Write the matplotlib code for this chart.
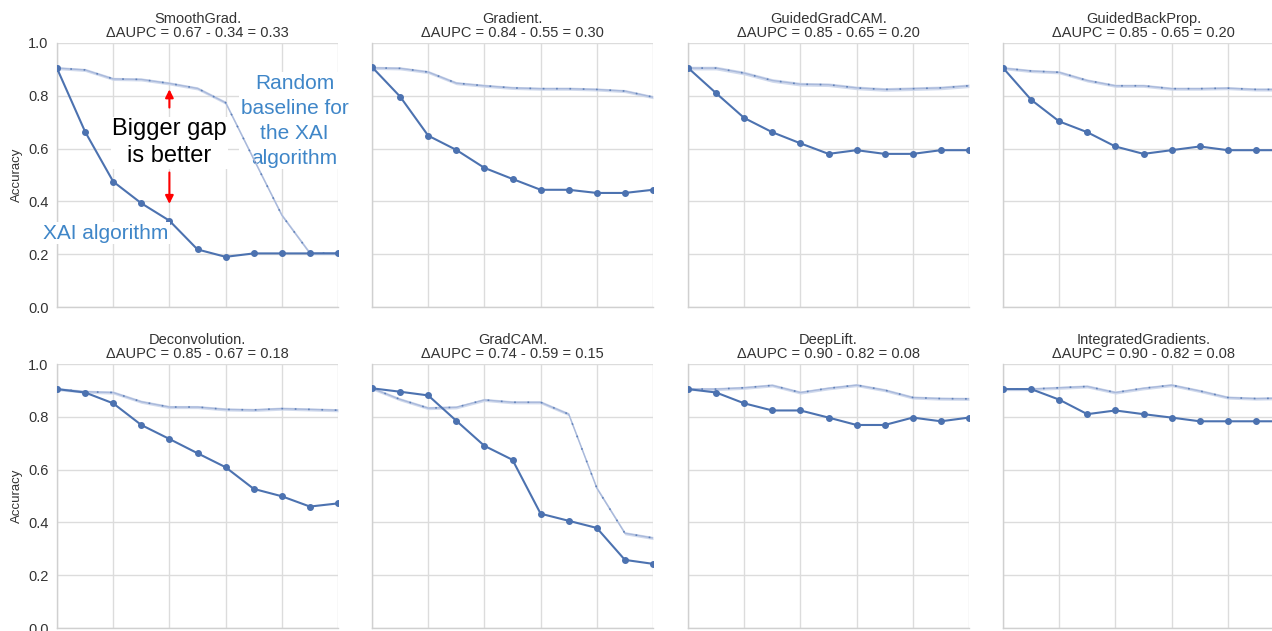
import numpy as np
import matplotlib
matplotlib.use("Agg")
import matplotlib.pyplot as plt
import seaborn as sns

sns.set_style("whitegrid")
plt.rcParams['font.family'] = ['Liberation Sans', 'DejaVu Sans']

# Datos (11 pasos por panel)
steps = np.arange(11)

methods = ["SmoothGrad", "Gradient", "GuidedGradCAM", "GuidedBackProp",
           "Deconvolution", "GradCAM", "DeepLift", "IntegratedGradients"]
aupc_xai = [0.34, 0.55, 0.65, 0.65, 0.67, 0.59, 0.82, 0.82]
aupc_rand = [0.67, 0.84, 0.85, 0.85, 0.85, 0.74, 0.90, 0.90]
aupc_gap = [0.33, 0.30, 0.20, 0.20, 0.18, 0.15, 0.08, 0.08]

xai_smoothgrad = [0.904, 0.664, 0.475, 0.393, 0.327, 0.218, 0.190, 0.203, 0.203, 0.203, 0.203]
xai_gradient = [0.909, 0.797, 0.649, 0.595, 0.527, 0.485, 0.444, 0.444, 0.432, 0.432, 0.444]
xai_guidedgradcam = [0.906, 0.810, 0.716, 0.662, 0.620, 0.580, 0.594, 0.580, 0.580, 0.594, 0.594]
xai_guidedbackprop = [0.906, 0.785, 0.703, 0.662, 0.608, 0.580, 0.594, 0.608, 0.594, 0.594, 0.594]
xai_deconvolution = [0.905, 0.892, 0.851, 0.769, 0.716, 0.662, 0.609, 0.527, 0.499, 0.460, 0.472]
xai_gradcam = [0.908, 0.895, 0.881, 0.785, 0.690, 0.637, 0.433, 0.406, 0.379, 0.258, 0.243]
xai_deeplift = [0.905, 0.892, 0.851, 0.824, 0.824, 0.797, 0.769, 0.769, 0.797, 0.783, 0.797]
xai_intgrad = [0.905, 0.905, 0.865, 0.810, 0.824, 0.810, 0.797, 0.783, 0.783, 0.783, 0.783]

rand_smoothgrad = [0.905, 0.898, 0.864, 0.862, 0.847, 0.828, 0.774, 0.560, 0.348, 0.204, 0.204]
rand_gradient = [0.906, 0.904, 0.890, 0.848, 0.838, 0.830, 0.827, 0.827, 0.824, 0.818, 0.795]
rand_guidedgradcam = [0.905, 0.905, 0.886, 0.858, 0.844, 0.842, 0.830, 0.824, 0.827, 0.830, 0.838]
rand_guidedbackprop = [0.905, 0.894, 0.889, 0.858, 0.838, 0.838, 0.827, 0.827, 0.829, 0.824, 0.824]
rand_deconvolution = [0.905, 0.895, 0.892, 0.857, 0.837, 0.837, 0.828, 0.826, 0.831, 0.828, 0.825]
rand_gradcam = [0.908, 0.866, 0.833, 0.836, 0.864, 0.855, 0.855, 0.810, 0.530, 0.359, 0.341]
rand_deeplift = [0.905, 0.905, 0.910, 0.919, 0.892, 0.908, 0.920, 0.901, 0.873, 0.869, 0.868]
rand_intgrad = [0.905, 0.905, 0.910, 0.915, 0.892, 0.908, 0.920, 0.898, 0.873, 0.869, 0.871]

# dispersión (media banda) de la línea base aleatoria
rand_spread = [0.006, 0.006, 0.007, 0.006, 0.006, 0.006, 0.006, 0.006]

xai_curves = [xai_smoothgrad, xai_gradient, xai_guidedgradcam, xai_guidedbackprop,
              xai_deconvolution, xai_gradcam, xai_deeplift, xai_intgrad]
rand_curves = [rand_smoothgrad, rand_gradient, rand_guidedgradcam, rand_guidedbackprop,
               rand_deconvolution, rand_gradcam, rand_deeplift, rand_intgrad]

# Gráfico
W, H = 1272, 631
fig = plt.figure(figsize=(W / 100, H / 100), dpi=100)

col_left = [57, 372, 688, 1003]
row_top = [43, 364]
ax_w, ax_h = 281, 264

blue = '#4c72b0'
axes = []
for i, name in enumerate(methods):
    r, c = divmod(i, 4)
    left = col_left[c] / W
    bottom = (H - row_top[r] - ax_h) / H
    ax = fig.add_axes([left, bottom, ax_w / W, ax_h / H])
    axes.append(ax)

    rnd = np.array(rand_curves[i])
    ax.fill_between(steps, rnd - rand_spread[i], rnd + rand_spread[i],
                    color='#c9d4ea', alpha=0.85, linewidth=0, zorder=2)
    ax.plot(steps, rnd, color='#a9b9db', linewidth=1.0, zorder=2.5)
    ax.plot(steps, rnd, color=blue, linestyle=(0, (1, 7)), linewidth=1.2,
            alpha=0.8, zorder=3)
    ax.plot(steps[:1], rnd[:1], marker='o', markersize=4, markerfacecolor='white',
            markeredgecolor='#a9b9db', linestyle='none', zorder=3)
    ax.plot(steps, xai_curves[i], color=blue, marker='o', markersize=4,
            linewidth=1.5, zorder=4)

    ax.set_xlim(0, 10)
    ax.set_ylim(0, 1.0)
    ax.set_xticks(np.arange(0, 11, 2))
    ax.set_xticklabels([])
    ax.set_yticks(np.arange(0, 1.01, 0.2))
    ax.tick_params(axis='both', length=0, pad=6, labelsize=10.5, labelcolor='#333333')
    if c == 0:
        ax.set_ylabel('Accuracy', fontsize=9.5, color='#333333', labelpad=4)
        ax.set_yticklabels([f'{v:.1f}' for v in np.arange(0, 1.01, 0.2)])
    else:
        ax.set_yticklabels([])
    for s in ['top', 'right']:
        ax.spines[s].set_visible(False)
    for s in ['left', 'bottom']:
        ax.spines[s].set_color('#d0d0d0')
        ax.spines[s].set_linewidth(1.0)
    ax.grid(True, color='#dcdcdc', linewidth=1.0)
    ax.set_axisbelow(True)
    ax.set_title(f'{name}.\n\u0394AUPC = {aupc_rand[i]:.2f} - {aupc_xai[i]:.2f} = {aupc_gap[i]:.2f}',
                 fontsize=10.5, color='#333333', pad=4, linespacing=1.05)

# Anotaciones del primer panel
ax0 = axes[0]
txt_blue = '#3f86c8'
ax0.text(8.45, 0.705, 'Random\nbaseline for\nthe XAI\nalgorithm', ha='center', va='center',
         fontsize=15, color=txt_blue, linespacing=1.4, zorder=1.5, clip_on=False,
         bbox=dict(facecolor='white', edgecolor='none', pad=1))
ax0.text(4.0, 0.622, 'Bigger gap\nis better', ha='center', va='center',
         fontsize=17, color='black', linespacing=1.3, zorder=5,
         bbox=dict(facecolor='white', edgecolor='none', pad=1))
ax0.text(1.75, 0.28, 'XAI algorithm', ha='center', va='center',
         fontsize=15, color=txt_blue, zorder=5, clip_on=False,
         bbox=dict(facecolor='white', edgecolor='none', pad=1))
ax0.annotate('', xy=(4.0, 0.835), xytext=(4.0, 0.745),
             arrowprops=dict(arrowstyle='-|>', color='red', lw=1.5, mutation_scale=12), zorder=6)
ax0.annotate('', xy=(4.0, 0.38), xytext=(4.0, 0.52),
             arrowprops=dict(arrowstyle='-|>', color='red', lw=1.5, mutation_scale=12), zorder=6)

plt.savefig('out.png', dpi=100)
plt.close()
